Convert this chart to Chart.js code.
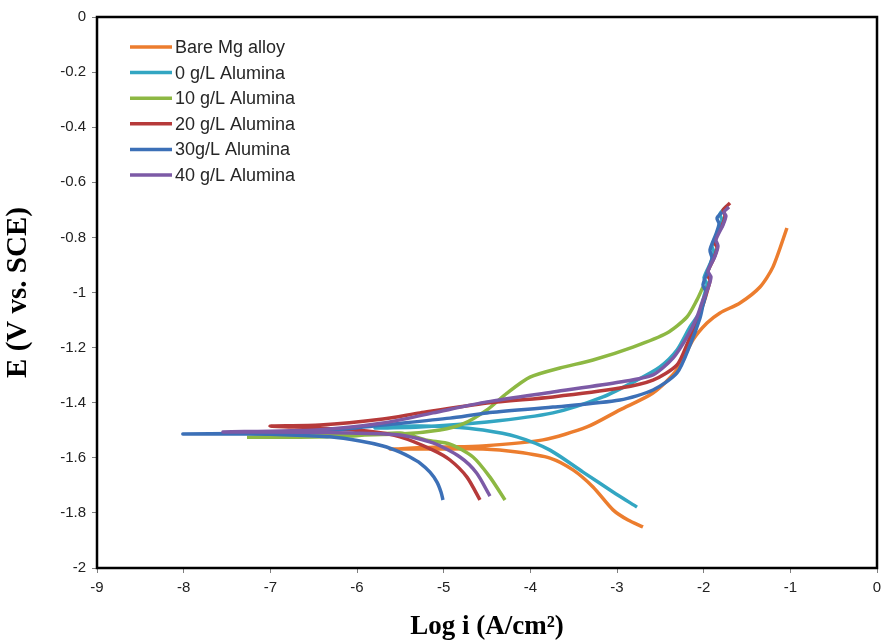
<!DOCTYPE html>
<html>
<head>
<meta charset="utf-8">
<script src="https://cdn.jsdelivr.net/npm/chart.js@4.4.1/dist/chart.umd.min.js"></script>
<style>
html,body{margin:0;padding:0;background:#fff;}
#wrap{width:883px;height:643px;}
</style>
</head>
<body>
<div id="wrap"><canvas id="c" width="883" height="643"></canvas></div>
<script>
// ---- Data (log i in A/cm2, E in V vs SCE) ----
const seriesLabels = ['Bare Mg alloy','0 g/L Alumina','10 g/L Alumina','20 g/L Alumina','30g/L Alumina','40 g/L Alumina'];
const seriesColors = ['#EC7D2E','#33A6C2','#8DB843','#B63A3A','#3C70B7','#7C5AA6'];

const bareX = [-2.70,-2.873,-3.046,-3.277,-3.508,-3.773,-4.154,-4.546,-5.042,-5.619,-5.04,-4.55,-3.854,-3.346,-2.966,-2.585,-2.308,-2.123,-1.962,-1.812,-1.581,-1.350,-1.200,-1.039];
const bareE = [-1.851,-1.826,-1.789,-1.706,-1.644,-1.601,-1.579,-1.568,-1.568,-1.568,-1.561,-1.557,-1.535,-1.488,-1.426,-1.365,-1.281,-1.172,-1.111,-1.074,-1.038,-0.980,-0.907,-0.766];

const a0X = [-2.769,-3.046,-3.392,-3.773,-4.154,-4.546,-4.927,-5.331,-5.792,-5.273,-4.50,-3.739,-3.162,-2.769,-2.504,-2.308,-2.158,-2.043,-1.996,-1.962,-1.996,-1.916,-1.881,-1.904,-1.823,-1.789,-1.812,-1.731];
const a0E = [-1.779,-1.724,-1.652,-1.572,-1.524,-1.499,-1.488,-1.485,-1.492,-1.488,-1.470,-1.437,-1.379,-1.318,-1.270,-1.209,-1.125,-1.071,-1.013,-0.969,-0.947,-0.889,-0.853,-0.831,-0.773,-0.737,-0.715,-0.686];

const a10X = [-4.292,-4.466,-4.662,-4.927,-5.192,-5.504,-6.081,-6.658,-7.269,-6.658,-5.504,-5.042,-4.777,-4.50,-4.269,-4.004,-3.658,-3.277,-2.816,-2.423,-2.193,-2.077,-2.008];
const a10E = [-1.753,-1.670,-1.597,-1.550,-1.536,-1.510,-1.521,-1.525,-1.525,-1.521,-1.514,-1.499,-1.477,-1.426,-1.365,-1.307,-1.274,-1.245,-1.198,-1.147,-1.089,-1.027,-0.980];

const a20X = [-4.581,-4.731,-4.927,-5.123,-5.504,-5.885,-6.427,-7.004,-6.427,-5.700,-5.273,-4.50,-3.739,-2.966,-2.585,-2.308,-2.181,-2.077,-2.008,-1.962,-1.927,-1.962,-1.881,-1.846,-1.881,-1.789,-1.754,-1.777,-1.696];
const a20E = [-1.753,-1.670,-1.608,-1.572,-1.524,-1.503,-1.492,-1.485,-1.481,-1.459,-1.437,-1.401,-1.379,-1.347,-1.318,-1.263,-1.180,-1.100,-1.045,-0.998,-0.955,-0.933,-0.875,-0.838,-0.813,-0.759,-0.722,-0.701,-0.675];

const a30X = [-5.008,-5.031,-5.077,-5.158,-5.273,-5.389,-5.504,-5.700,-5.965,-6.312,-6.773,-7.235,-8.008,-6.854,-6.462,-5.700,-4.927,-4.50,-3.739,-2.966,-2.585,-2.308,-2.158,-2.043,-2.008,-1.973,-2.008,-1.939,-1.904,-1.927,-1.858,-1.823,-1.846,-1.789];
const a30E = [-1.753,-1.724,-1.688,-1.652,-1.619,-1.597,-1.579,-1.557,-1.539,-1.524,-1.517,-1.514,-1.514,-1.510,-1.506,-1.481,-1.456,-1.437,-1.416,-1.390,-1.354,-1.292,-1.191,-1.093,-1.045,-0.998,-0.973,-0.911,-0.875,-0.846,-0.788,-0.751,-0.730,-0.708];

const a40X = [-4.466,-4.620,-4.812,-5.123,-5.504,-6.081,-6.658,-7.546,-6.462,-5.700,-5.123,-4.50,-3.739,-2.966,-2.585,-2.354,-2.193,-2.077,-2.008,-1.950,-1.916,-1.950,-1.869,-1.835,-1.858,-1.777,-1.743,-1.766,-1.708];
const a40E = [-1.739,-1.655,-1.597,-1.546,-1.517,-1.510,-1.507,-1.506,-1.499,-1.474,-1.437,-1.397,-1.361,-1.325,-1.299,-1.238,-1.162,-1.089,-1.027,-0.984,-0.944,-0.922,-0.868,-0.831,-0.809,-0.755,-0.722,-0.708,-0.690];

const xTickValues = [-9,-8,-7,-6,-5,-4,-3,-2,-1,0];
const xTickLabels = ['-9','-8','-7','-6','-5','-4','-3','-2','-1','0'];
const yTickValues = [0,-0.2,-0.4,-0.6,-0.8,-1,-1.2,-1.4,-1.6,-1.8,-2];
const yTickLabels = ['0','-0.2','-0.4','-0.6','-0.8','-1','-1.2','-1.4','-1.6','-1.8','-2'];

const xTitle = 'Log i (A/cm\u00B2)';
const yTitle = 'E (V vs. SCE)';

// ---- Build datasets ----
const allX = [bareX,a0X,a10X,a20X,a30X,a40X];
const allE = [bareE,a0E,a10E,a20E,a30E,a40E];
const datasets = allX.map((xs,i)=>({
  label: seriesLabels[i],
  data: xs.map((x,j)=>({x:x,y:allE[i][j]})),
  borderColor: seriesColors[i],
  backgroundColor: seriesColors[i],
  borderWidth: 3.5,
  pointRadius: 0,
  showLine: true,
  tension: 0.25,
  fill: false,
  order: allX.length - i
}));

const framePlugin = {
  id:'frame',
  afterDatasetsDraw(chart){
    const a = chart.chartArea, ctx = chart.ctx;
    ctx.save();
    ctx.strokeStyle = '#000';
    ctx.lineWidth = 2.5;
    ctx.strokeRect(a.left, a.top, a.right-a.left, a.bottom-a.top);
    ctx.restore();
  }
};

const legendPlugin = {
  id:'customLegend',
  afterDatasetsDraw(chart){
    const ctx = chart.ctx;
    ctx.save();
    ctx.font = '18px "Liberation Sans", Arial, sans-serif';
    ctx.textBaseline = 'middle';
    ctx.textAlign = 'left';
    chart.data.datasets.forEach((ds,i)=>{
      const y = 47 + i*25.6;
      ctx.strokeStyle = ds.borderColor;
      ctx.lineWidth = 3.5;
      ctx.beginPath();
      ctx.moveTo(130,y); ctx.lineTo(172,y);
      ctx.stroke();
      ctx.fillStyle = '#262626';
      ctx.fillText(ds.label, 175, y+1);
    });
    ctx.restore();
  }
};

new Chart(document.getElementById('c'), {
  type:'scatter',
  data:{datasets:datasets},
  plugins:[framePlugin, legendPlugin],
  options:{
    responsive:false,
    animation:false,
    events:[],
    layout:{padding:{top:17,right:6,left:0,bottom:0}},
    plugins:{legend:{display:false},tooltip:{enabled:false}},
    scales:{
      x:{
        type:'linear', min:-9, max:0,
        afterBuildTicks(s){ s.ticks = xTickValues.map(v=>({value:v})); },
        afterFit(s){ s.height = 75; s.paddingRight = 0; s.paddingLeft = 0; },
        ticks:{
          autoSkip:false, maxRotation:0, padding:6,
          color:'#222',
          font:{family:'"Liberation Sans", Arial, sans-serif', size:15},
          callback(v){ const k = xTickValues.indexOf(v); return k>=0 ? xTickLabels[k] : ''; }
        },
        grid:{display:true, drawOnChartArea:false, drawTicks:true, tickLength:5, color:'#7f7f7f'},
        border:{display:false},
        title:{display:true, text:xTitle, color:'#000', padding:{top:0,bottom:0},
          font:{family:'"Liberation Serif", "Times New Roman", serif', size:27, weight:'bold'}}
      },
      y:{
        type:'linear', min:-2, max:0,
        afterBuildTicks(s){ s.ticks = yTickValues.map(v=>({value:v})); },
        afterFit(s){ s.width = 97; s.paddingTop = 0; s.paddingBottom = 0; },
        ticks:{
          autoSkip:false, padding:6,
          color:'#222',
          font:{family:'"Liberation Sans", Arial, sans-serif', size:15},
          callback(v){ const k = yTickValues.findIndex(t=>Math.abs(t-v)<1e-9); return k>=0 ? yTickLabels[k] : ''; }
        },
        grid:{display:true, drawOnChartArea:false, drawTicks:true, tickLength:5, color:'#7f7f7f'},
        border:{display:false},
        title:{display:true, text:yTitle, color:'#000', padding:{top:1,bottom:0},
          font:{family:'"Liberation Serif", "Times New Roman", serif', size:29, weight:'bold'}}
      }
    }
  }
});
</script>
</body>
</html>
